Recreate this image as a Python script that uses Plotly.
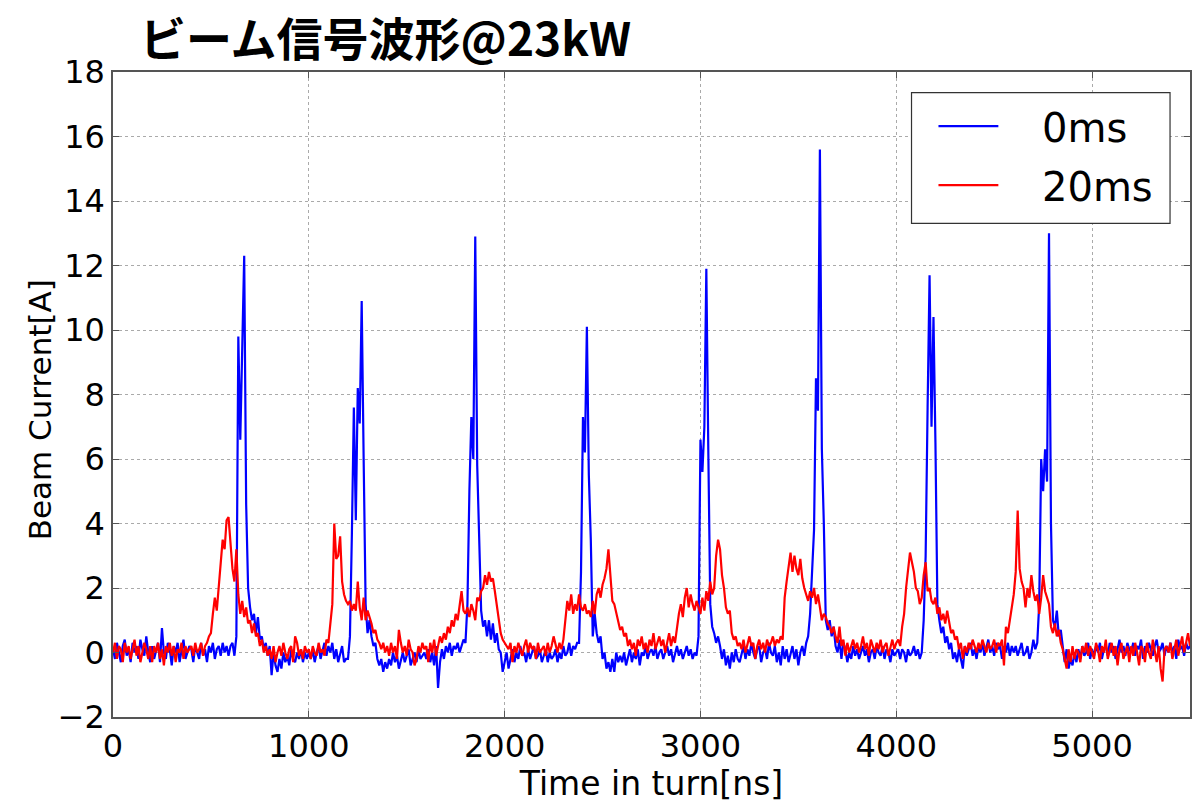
import numpy as np
import plotly.graph_objects as go

# Sampling time axis [ns], 10 ns steps
time_ns = np.arange(0, 5501, 10)

# Beam current [A] at 0 ms (blue)
current_0ms = [
    0.1,-0.2,0.3,0.0,-0.3,0.2,0.4,-0.1,0.1,-0.3,0.3,0.0,0.2,-0.2,0.4,0.1,-0.1,0.5,0.0,-0.3,      # 0
    0.2,-0.2,0.1,0.3,-0.3,0.76,0.0,-0.2,0.3,0.1,-0.4,0.2,0.0,0.3,-0.3,0.1,0.4,-0.2,0.0,0.2,      # 200
    0.1,-0.3,0.2,0.0,-0.2,0.3,-0.1,0.1,-0.3,0.2,0.0,0.3,-0.2,0.1,0.2,-0.1,0.3,0.0,0.2,-0.1,      # 400
    0.2,0.3,-0.1,0.5,9.8,6.6,9.0,12.3,4.6,2.0,1.4,1.0,1.2,0.6,1.1,0.4,0.5,0.1,0.3,-0.1,          # 600
    0.2,-0.7,0.0,-0.4,-0.6,-0.2,-0.5,0.0,-0.3,-0.1,-0.4,0.1,-0.2,-0.3,0.0,-0.2,0.1,-0.3,0.0,-0.2, # 800
    0.0,-0.2,0.1,-0.3,0.0,0.2,-0.2,0.1,0.3,-0.1,0.2,0.0,0.3,-0.2,0.1,-0.3,0.0,0.2,-0.3,-0.2,     # 1000
    -0.2,0.5,3.7,7.6,4.1,8.2,7.1,10.9,6.0,1.5,0.6,1.0,0.5,0.2,0.3,-0.2,-0.4,-0.2,-0.6,-0.3,      # 1200
    -0.5,-0.2,-0.4,0.0,-0.3,-0.1,-0.5,-0.2,0.0,-0.3,-0.1,0.1,-0.4,-0.2,0.0,-0.3,0.1,-0.2,-0.1,0.0, # 1400
    -0.2,0.1,-0.3,0.0,-0.4,0.2,-1.1,-0.3,0.1,-0.2,0.2,0.0,0.3,-0.1,0.2,0.1,0.3,0.0,0.2,0.4,      # 1600
    0.3,1.5,5.0,7.3,6.0,12.9,5.8,3.2,1.3,0.8,1.0,0.5,1.0,0.4,0.9,0.3,0.6,0.1,0.0,-0.6,          # 1800
    -0.3,0.0,-0.5,-0.2,0.1,-0.3,0.0,-0.2,0.2,-0.1,0.0,-0.3,0.1,-0.2,0.0,0.2,-0.2,-0.1,0.1,-0.3,  # 2000
    -0.1,0.1,-0.3,0.0,-0.2,-0.1,0.1,-0.3,0.0,-0.2,0.2,-0.1,0.0,0.3,-0.1,0.2,0.1,0.3,0.3,2.5,    # 2200
    7.3,6.2,10.1,5.5,3.5,0.5,1.2,0.6,0.3,0.5,-0.2,0.0,-0.5,-0.3,-0.6,-0.2,-0.6,0.0,-0.3,-0.1,   # 2400
    -0.3,0.0,-0.4,-0.1,0.1,-0.3,0.0,-0.2,0.1,-0.4,0.0,-0.1,0.2,-0.2,0.0,0.1,-0.1,0.2,-0.2,0.0,  # 2600
    0.1,-0.2,0.0,0.2,-0.1,0.1,-0.3,0.0,0.2,-0.1,0.1,-0.2,0.0,0.2,-0.1,0.1,-0.2,0.0,-0.1,0.5,    # 2800
    6.6,5.6,7.0,11.9,6.3,1.5,0.8,0.6,0.3,0.5,0.2,-0.2,0.1,-0.4,-0.1,-0.5,0.0,-0.3,0.1,-0.2,     # 3000
    -0.3,0.0,0.2,-0.2,0.1,-0.1,0.3,0.0,-0.2,0.1,0.2,-0.3,0.0,0.1,-0.2,0.3,0.0,-0.1,0.2,-0.3,    # 3200
    0.0,-0.4,0.2,-0.2,0.1,-0.3,0.0,0.2,-0.2,0.1,-0.4,0.0,0.2,-0.1,0.3,0.5,1.2,2.3,3.8,8.5,      # 3400
    7.5,15.6,6.3,4.0,1.0,0.7,1.0,0.5,0.8,0.2,0.0,0.4,-0.2,0.3,0.1,-0.3,0.0,-0.2,0.2,-0.1,       # 3600
    0.1,-0.2,0.0,0.2,-0.1,0.1,-0.3,0.0,0.1,-0.2,0.2,0.0,-0.1,0.2,-0.2,0.1,0.0,-0.3,0.1,-0.1,    # 3800
    0.0,0.1,-0.2,0.1,0.0,-0.3,0.1,-0.1,0.0,0.2,-0.1,0.1,-0.2,0.0,1.0,3.0,7.6,11.7,7.0,10.4,     # 4000
    6.5,1.5,1.0,0.6,0.8,0.3,0.5,0.1,0.3,-0.2,0.0,-0.3,0.1,-0.2,-0.5,0.2,-0.1,0.1,0.3,-0.1,     # 4200
    0.1,-0.2,0.2,0.0,0.3,-0.1,0.2,0.4,0.0,0.2,-0.1,0.3,0.1,0.2,-0.2,0.2,0.0,0.3,-0.1,0.2,      # 4400
    0.0,0.2,-0.1,0.1,0.3,-0.1,0.0,0.2,-0.2,0.0,0.4,0.1,0.3,1.5,6.0,5.0,6.3,5.3,13.0,4.0,       # 4600
    1.0,0.8,1.3,0.5,0.7,0.2,-0.3,0.1,-0.5,-0.2,-0.4,0.0,-0.3,0.1,-0.2,0.2,-0.1,0.0,0.3,-0.2,   # 4800
    0.1,-0.1,0.2,0.0,0.3,-0.2,0.1,0.2,-0.1,0.3,0.0,0.2,-0.2,0.1,0.4,0.0,0.2,-0.1,0.3,0.1,      # 5000
    0.0,0.3,-0.1,0.2,0.1,0.4,-0.2,0.2,0.0,0.3,0.1,-0.1,0.2,0.4,0.0,0.1,0.3,-0.1,0.2,0.0,       # 5200
    0.3,0.0,0.2,-0.2,0.4,0.1,0.2,-0.1,0.3,0.1,0.2,                                             # 5400
]

# Beam current [A] at 20 ms (red)
current_20ms = [
    0.0,0.3,-0.2,0.2,0.1,-0.3,0.3,0.0,0.2,-0.2,0.1,0.4,-0.1,0.2,-0.3,0.0,0.3,0.1,-0.2,0.2,      # 0
    -0.3,0.2,0.0,0.3,-0.2,0.1,-0.4,0.2,0.0,0.3,-0.1,0.2,-0.3,0.1,0.0,0.3,-0.2,0.2,0.0,0.1,      # 200
    0.2,-0.1,0.3,0.0,0.1,0.3,-0.1,0.2,0.3,0.5,0.6,1.2,1.7,1.3,2.0,2.8,3.5,3.2,4.1,4.2,          # 400
    3.5,2.6,2.2,3.2,1.8,1.2,1.6,1.1,1.4,0.9,1.0,0.6,0.9,0.5,0.6,0.2,0.4,0.0,0.2,-0.1,           # 600
    0.1,-0.2,0.2,-0.3,0.0,0.2,-0.1,0.3,0.0,-0.2,0.1,0.2,-0.3,0.5,0.3,-0.1,0.1,-0.2,0.2,0.0,     # 800
    0.1,-0.2,0.2,0.0,-0.1,0.3,0.0,0.1,-0.1,0.4,0.3,0.9,1.5,4.0,2.9,3.0,3.6,2.2,1.8,1.6,        # 1000
    1.5,1.6,1.3,1.5,1.3,2.2,1.4,1.0,1.7,1.0,1.3,1.1,0.9,0.6,0.7,0.4,0.3,0.1,0.3,0.0,           # 1200
    0.2,-0.1,0.3,0.0,0.2,-0.2,0.7,0.3,0.0,0.2,-0.1,0.4,0.1,0.0,-0.4,-0.2,0.2,0.0,0.3,0.1,      # 1400
    0.2,-0.3,0.3,0.0,0.4,-0.1,0.2,0.5,0.3,0.6,0.4,0.8,0.6,1.0,0.8,1.2,1.0,1.5,1.9,1.3,         # 1600
    1.2,1.4,1.1,1.5,1.3,1.0,1.7,1.6,1.9,2.0,2.4,2.1,2.5,2.2,2.3,1.9,1.5,1.0,0.6,0.4,           # 1800
    0.3,0.2,0.1,0.3,-0.3,0.2,0.0,0.3,0.1,-0.1,0.2,0.4,0.0,0.3,0.1,0.2,-0.2,0.3,0.0,0.1,        # 2000
    0.2,-0.1,0.3,0.0,0.2,0.5,0.2,0.0,0.3,0.1,0.4,1.0,1.6,1.3,1.8,1.2,1.5,1.3,1.8,1.4,          # 2200
    1.3,1.5,1.2,1.3,1.1,1.6,1.2,1.8,2.0,1.7,2.1,2.3,2.6,3.2,2.4,1.6,1.5,1.2,1.0,0.7,           # 2400
    0.8,0.5,0.6,0.2,0.4,0.1,0.3,-0.1,0.4,0.2,0.5,0.1,0.3,0.0,0.4,0.2,0.6,0.1,0.3,0.5,          # 2600
    0.2,0.4,0.0,0.3,0.6,0.2,0.5,0.3,0.8,1.2,1.5,1.1,1.7,2.0,1.4,1.8,1.5,1.3,1.6,1.4,           # 2800
    1.2,1.7,1.3,1.9,1.6,2.2,1.8,2.0,3.0,3.5,3.2,2.4,2.0,1.4,1.2,1.3,0.6,0.4,0.5,0.2,           # 3000
    0.3,0.1,0.4,0.0,0.3,0.5,0.2,0.3,-0.2,0.2,0.4,0.1,0.3,0.0,0.4,0.2,0.3,0.5,0.2,0.4,          # 3200
    0.3,0.5,0.4,1.7,2.2,2.7,3.1,2.5,3.0,2.6,2.4,2.9,2.3,2.0,1.8,1.6,1.9,1.7,2.0,1.5,           # 3400
    1.8,1.4,1.0,1.2,1.1,0.9,0.8,0.6,0.8,0.5,0.3,0.8,0.2,0.4,-0.1,0.3,0.0,0.2,0.4,0.1,          # 3600
    0.3,0.0,0.2,0.5,0.1,0.3,-0.1,0.4,0.2,0.0,0.3,0.1,0.4,0.0,0.2,0.3,-0.1,0.2,0.4,0.1,         # 3800
    0.3,0.4,0.2,0.8,1.2,2.0,2.6,3.1,2.8,2.5,2.0,1.9,1.5,1.7,2.4,2.8,1.9,2.0,1.6,1.5,           # 4000
    1.7,1.2,1.4,1.0,1.2,0.9,1.3,1.0,0.6,0.7,0.4,0.5,0.1,0.3,-0.2,0.2,0.0,0.3,0.1,0.4,          # 4200
    0.2,0.0,0.3,0.1,0.4,0.2,0.0,0.3,0.1,0.2,0.4,0.0,0.3,0.2,0.4,-0.4,0.8,0.6,1.0,1.3,          # 4400
    1.8,2.5,4.4,2.6,2.2,2.0,1.4,2.0,1.7,2.4,1.9,1.6,1.8,1.2,1.7,2.4,1.9,1.7,1.5,0.8,           # 4600
    0.6,0.9,0.5,0.7,0.3,0.1,-0.2,-0.5,0.1,-0.3,0.2,-0.2,0.1,0.0,-0.3,0.2,0.0,0.3,-0.1,0.2,     # 4800
    0.0,-0.2,0.3,0.1,-0.3,0.2,0.0,0.4,-0.2,0.1,0.3,-0.1,0.2,-0.4,0.1,0.3,-0.2,0.0,0.2,-0.3,    # 5000
    0.2,-0.1,0.3,0.0,-0.4,0.2,0.1,-0.3,0.3,0.0,-0.2,0.4,0.1,-0.3,0.2,-0.5,-0.9,0.1,0.2,0.0,    # 5200
    0.3,-0.2,0.1,0.4,-0.1,0.2,0.5,0.0,0.3,0.6,0.2,                                             # 5400
]

x_ticks = [0, 1000, 2000, 3000, 4000, 5000]
y_ticks = [-2, 0, 2, 4, 6, 8, 10, 12, 14, 16, 18]
series_names = ["0ms", "20ms"]
series_colors = ["#0000ff", "#ff0000"]

FONT = "DejaVu Sans"
fig = go.Figure()
for name, ys, col in zip(series_names, [current_0ms, current_20ms], series_colors):
    fig.add_trace(go.Scatter(x=time_ns, y=ys, mode="lines", name=name,
                             line=dict(color=col, width=2.2), showlegend=False))

axis_common = dict(
    showline=True, linecolor="#555555", linewidth=1.5, mirror="allticks",
    ticks="inside", ticklen=6, tickcolor="#555555", tickwidth=1,
    showgrid=True, gridcolor="#aaaaaa", griddash="dot", gridwidth=1,
    zeroline=False, tickfont=dict(family=FONT, size=32, color="black"),
)

fig.update_xaxes(range=[0, 5500], tickvals=x_ticks, **axis_common,
                 title=dict(text="Time in turn[ns]", font=dict(family=FONT, size=33, color="black"), standoff=4))
fig.update_yaxes(range=[-2, 18], tickvals=y_ticks, **axis_common)

# Plot-area geometry (pixels) used to place the legend box & y-title in paper units
L, R, T, B = 113, 1192, 72, 728
def px(x): return (x - L) / (R - L)
def py(y): return (B - y) / (B - T)

# Y-axis title (placed as annotation to match vertical centering)
fig.add_annotation(text="Beam Current[A]", xref="paper", yref="paper",
                   x=px(40), y=py(416), xanchor="center", yanchor="middle", textangle=-90,
                   showarrow=False, font=dict(family=FONT, size=31, color="black"))

# Legend box drawn by hand to match the original layout
fig.add_shape(type="rect", xref="paper", yref="paper", x0=px(913), x1=px(1172), y0=py(226), y1=py(93),
              line=dict(color="#333333", width=1.2), fillcolor="white", layer="above")
legend_rows = [127, 187]
for name, col, yrow in zip(series_names, series_colors, legend_rows):
    fig.add_shape(type="line", xref="paper", yref="paper", x0=px(940), x1=px(1000), y0=py(yrow), y1=py(yrow),
                  line=dict(color=col, width=2.2), layer="above")
    fig.add_annotation(text=name, xref="paper", yref="paper", x=px(1042), y=py(yrow + 2),
                       xanchor="left", yanchor="middle", showarrow=False,
                       font=dict(family=FONT, size=40, color="black"))

fig.update_layout(
    width=1203, height=803,
    margin=dict(l=L, r=1203 - R, t=T, b=803 - B),
    paper_bgcolor="white", plot_bgcolor="white",
    title=dict(text="<b>ビーム信号波形@23kW</b>", x=140/1203, xanchor="left", y=1-40/803, yanchor="middle",
               font=dict(family="Noto Sans CJK JP", size=46, color="black")),
    showlegend=False,
)

fig.write_html("out.html")
